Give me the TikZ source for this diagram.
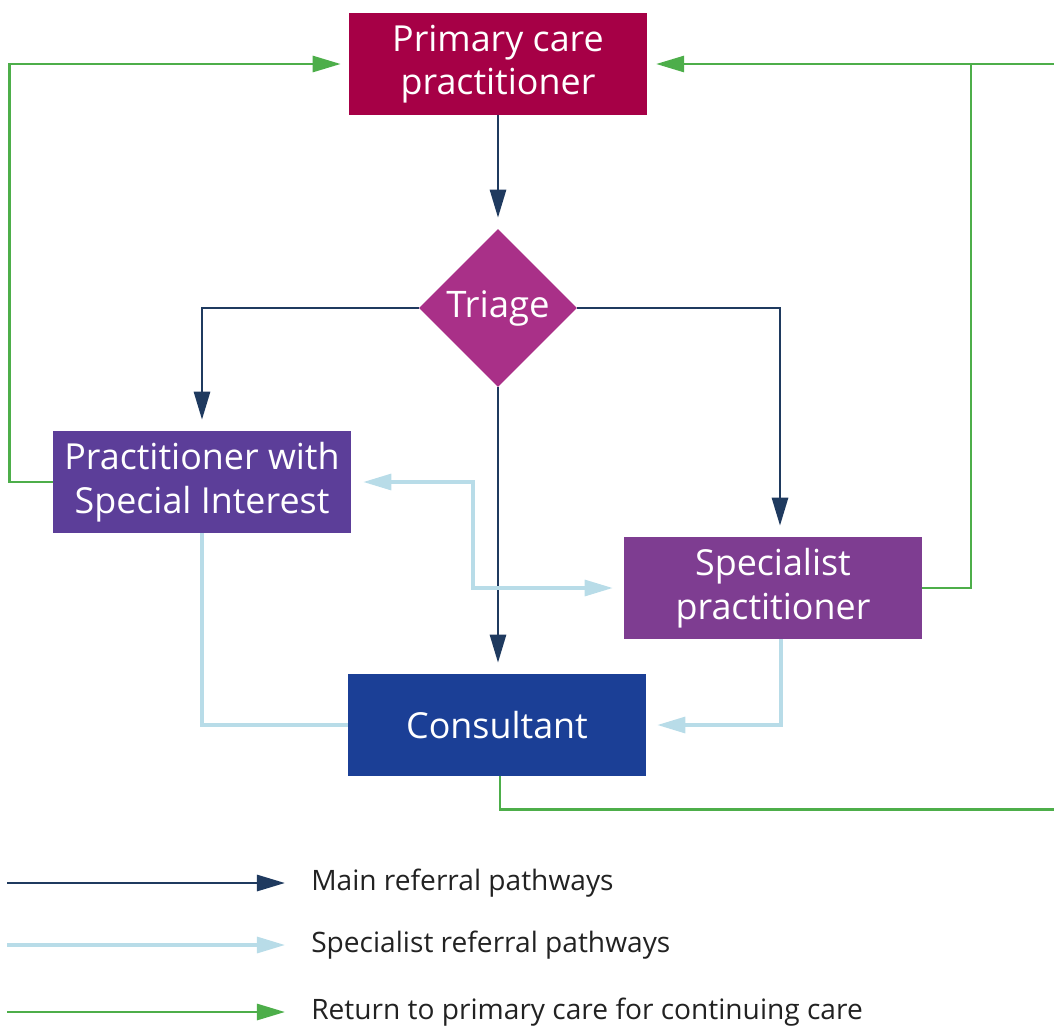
\documentclass[tikz,border=0pt]{standalone}
\usepackage{fontspec}
\setmainfont{Open Sans}
\usepackage{tikz}
\usetikzlibrary{calc,arrows.meta,shapes,positioning}

\definecolor{primcol}{HTML}{A60046}
\definecolor{triagecol}{HTML}{A93088}
\definecolor{pwsicol}{HTML}{5C3E99}
\definecolor{speccol}{HTML}{7E3D91}
\definecolor{conscol}{HTML}{1B3F96}
\definecolor{mainline}{HTML}{1F3A5F}
\definecolor{specline}{HTML}{B8DCE8}
\definecolor{retline}{HTML}{4DAE4A}
\definecolor{legtext}{HTML}{222222}

\begin{document}
\begin{tikzpicture}[x=0.025cm,y=-0.025cm,
    box/.style={rectangle, minimum width=7.45cm, minimum height=2.55cm,
      inner sep=0pt, text=white, align=center,
      font=\fontsize{25.5}{31}\selectfont},
    decision/.style={diamond, minimum width=3.95cm, minimum height=3.95cm,
      inner sep=0pt, fill=triagecol, text=white,
      font=\fontsize{26}{31}\selectfont},
    tip/.style={-{Triangle[length=0.7cm,width=0.4cm]}},
    mainarr/.style={draw=mainline, line width=2pt, tip},
    specarr/.style={draw=specline, line width=2.2pt},
    retarr/.style={draw=retline, line width=2pt, tip},
    legend/.style={anchor=west, text=legtext, inner sep=0pt,
      font=\fontsize{20}{24}\selectfont}]
  \useasboundingbox (0,0) rectangle (1054,1028);

  % boxes
  \node[box, fill=primcol] (prim) at (498,64) {Primary care\\practitioner};
  \node[decision] (triage) at (498,308) {Triage};
  \node[box, fill=pwsicol] (pwsi) at (202,482) {Practitioner with\\Special Interest};
  \node[box, fill=speccol] (spec) at (773,588) {Specialist\\practitioner};
  \node[box, fill=conscol] (cons) at (497,725) {Consultant};

  \coordinate (gjoin) at (971,64);
  \coordinate (rim) at (1080,64);
  \coordinate (elbow) at (473,530);

  % main referral
  \draw[mainarr, shorten >=0.275cm] (prim) -- (triage);
  \draw[mainarr, shorten >=0.275cm] (triage.west) -| (pwsi.north);
  \draw[mainarr, shorten >=0.275cm] (triage.east) -| ($(spec.north)+(7,0)$);
  \draw[mainarr, shorten >=0.275cm] (triage.south) -- (triage.south |- cons.north);

  % specialist referral
  \draw[specarr] (pwsi.south) |- (cons.west);
  \draw[specarr, tip, shorten >=0.275cm] ($(spec.south)+(8,0)$) |- (cons.east);
  \draw[specarr, {Triangle[length=0.7cm,width=0.4cm]}-{Triangle[length=0.7cm,width=0.4cm]},
    shorten <=0.3cm, shorten >=0.275cm] (pwsi.east) -| (elbow) |- (spec.west);

  % return to primary care
  \draw[retarr, shorten >=0.2cm] (pwsi.west) -- ++(-43,0) |- (prim.west);
  \draw[retarr, shorten >=0.22cm] ($(cons.south)+(3,0)$) -- ++(0,33) -| (rim) -- (prim.east);
  \draw[draw=retline, line width=2pt] (spec.east) -| (gjoin);

  % legend
  \coordinate (l1a) at (7,883);
  \coordinate (l2a) at (7,945);
  \coordinate (l3a) at (7,1012);
  \node[legend] (l1) at (311,883) {Main referral pathways};
  \node[legend] (l2) at (311,945) {Specialist referral pathways};
  \node[legend] (l3) at (311,1012) {Return to primary care for continuing care};
  \draw[mainarr, shorten >=0.65cm] (l1a) -- (l1.west);
  \draw[specarr, tip, shorten >=0.65cm] (l2a) -- (l2.west);
  \draw[retarr, shorten >=0.65cm] (l3a) -- (l3.west);
\end{tikzpicture}
\end{document}
